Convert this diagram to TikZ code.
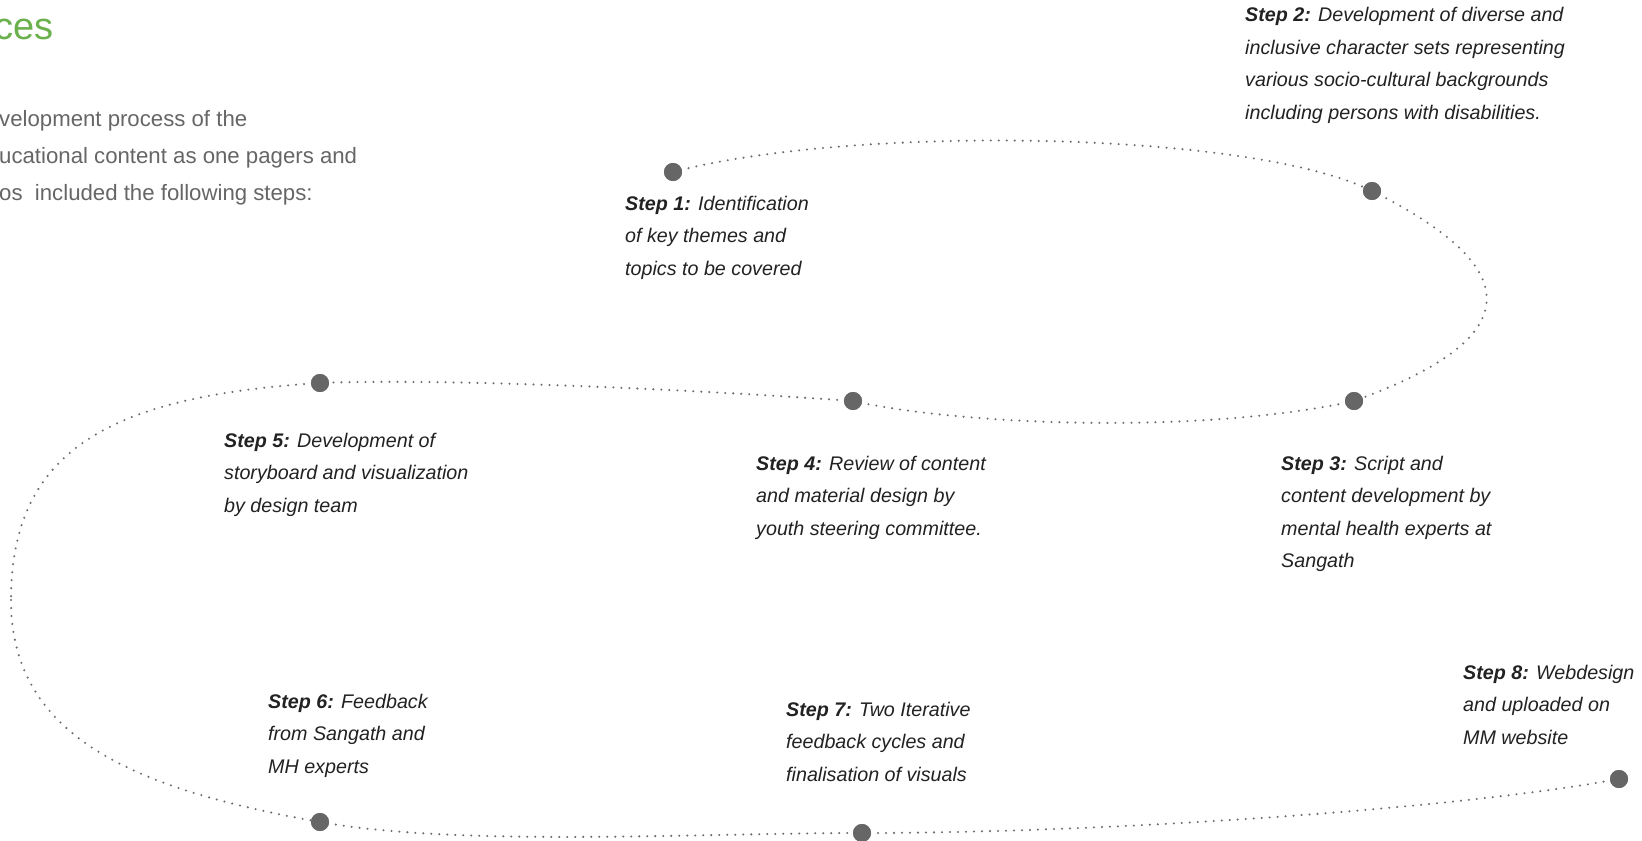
\documentclass[tikz,border=0pt]{standalone}
\usepackage{fontspec}
\setmainfont{Liberation Sans}
\definecolor{textdark}{HTML}{222222}
\definecolor{textgray}{HTML}{666666}
\definecolor{headgreen}{RGB}{106,176,76}
\definecolor{dotgray}{HTML}{666666}
\definecolor{pathgray}{HTML}{6E6E6E}
\begin{document}
\begin{tikzpicture}[x=1pt,y=-1pt,
  stepdot/.style={circle,fill=dotgray,draw=none,minimum size=18pt,inner sep=0pt},
  steptext/.style={anchor=base west,align=left,inner sep=0pt,text=textdark,
    font=\fontsize{19.7}{32.5}\selectfont\itshape},
  pathline/.style={draw=pathgray,line width=2.3pt,line cap=round,dash pattern=on 0pt off 8pt},
  paratext/.style={anchor=base west,align=left,inner sep=0pt,text=textgray,
    font=\fontsize{22.2}{37}\selectfont}
]
\useasboundingbox (0,0) rectangle (1642,841);
\fill[white] (0,0) rectangle (1642,841);

% header (last-line baselines are used as anchors)
\node[anchor=base east,inner sep=0pt,text=headgreen,font=\fontsize{38}{46}\selectfont] (head) at (54,39) {ces};
\node[paratext] (para) at (-1,200) {velopment process of the\\ucational content as one pagers and\\os\ \ included the following steps:};

% dots
\node[stepdot] (d1) at (673,172) {};
\node[stepdot] (d2) at (1372,191) {};
\node[stepdot] (d3) at (1354,401) {};
\node[stepdot] (d4) at (853,401) {};
\node[stepdot] (d5) at (320,383) {};
\node[stepdot] (d6) at (320,822) {};
\node[stepdot] (d7) at (862,833) {};
\node[stepdot] (d8) at (1619,779) {};
\coordinate (lft) at (11,600);

% dotted path
\path[pathline] (d1.center) .. controls (850,125) and (1250,130) .. (d2.center);
\path[pathline] (d2.center) .. controls (1522,266) and (1534,336) .. (d3.center);
\path[pathline] (d3.center) .. controls (1200,435) and (960,425) .. (d4.center);
\path[pathline] (d4.center) .. controls (700,390) and (450,378) .. (d5.center);
\path[pathline] (d5.center) .. controls (110,396) and (11,450) .. (lft);
\path[pathline] (lft) .. controls (11,740) and (140,790) .. (d6.center);
\path[pathline] (d6.center) .. controls (460,847) and (700,833) .. (d7.center);
\path[pathline] (d7.center) .. controls (1100,833) and (1450,810) .. (d8.center);
% dots on top of the path
\foreach \n in {d1,d2,d3,d4,d5,d6,d7,d8} {\fill[dotgray] (\n.center) circle (9pt);}

% texts (anchor = baseline of last line)
\node[steptext] (t1) at (625,275) {\textbf{Step 1:} Identification\\of key themes and\\topics to be covered};
\node[steptext] (t2) at (1245,119.2) {\textbf{Step 2:} Development of diverse and\\inclusive character sets representing\\various socio-cultural backgrounds\\including persons with disabilities.};
\node[steptext] (t3) at (1281,567.5) {\textbf{Step 3:} Script and\\content development by\\mental health experts at\\Sangath};
\node[steptext] (t4) at (756,535) {\textbf{Step 4:} Review of content\\and material design by\\youth steering committee.};
\node[steptext] (t5) at (224,512) {\textbf{Step 5:} Development of\\storyboard and visualization\\by design team};
\node[steptext] (t6) at (268,773) {\textbf{Step 6:} Feedback\\from Sangath and\\MH experts};
\node[steptext] (t7) at (786,781) {\textbf{Step 7:} Two Iterative\\feedback cycles and\\finalisation of visuals};
\node[steptext] (t8) at (1463,744) {\textbf{Step 8:} Webdesign\\and uploaded on\\MM website};
\end{tikzpicture}
\end{document}
